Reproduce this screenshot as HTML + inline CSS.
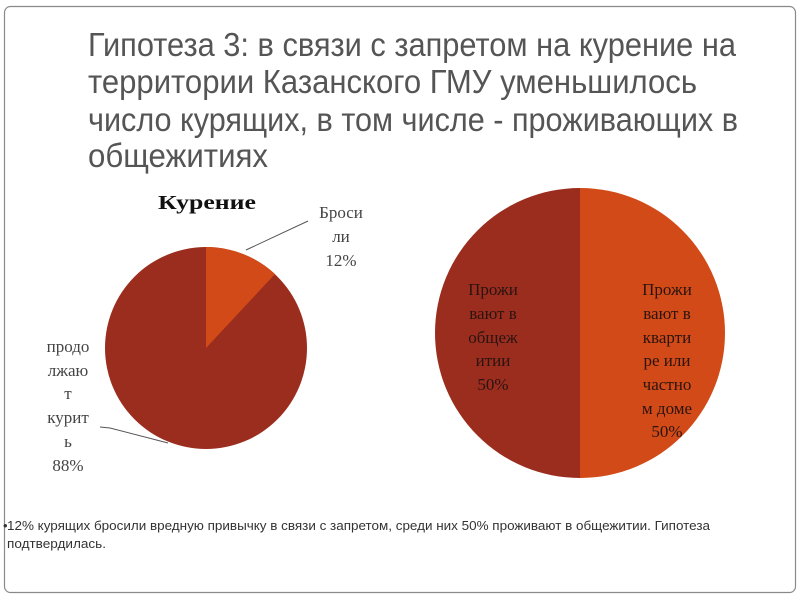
<!DOCTYPE html>
<html><head><meta charset="utf-8"><style>
html,body{margin:0;padding:0;background:#fff;}
svg{display:block;}
</style></head><body>
<svg width="800" height="600" xmlns="http://www.w3.org/2000/svg">
<rect x="4.5" y="6.5" width="791" height="586" rx="6" fill="#fff" stroke="#8a8a8a" stroke-width="1.2"/>
<g font-family="Liberation Sans, DejaVu Sans, sans-serif" font-size="33" fill="#555">
<text x="88" y="56" textLength="648" lengthAdjust="spacingAndGlyphs">Гипотеза 3: в связи с запретом на курение на</text>
<text x="88" y="93" textLength="609" lengthAdjust="spacingAndGlyphs">территории Казанского ГМУ уменьшилось</text>
<text x="88" y="131" textLength="650" lengthAdjust="spacingAndGlyphs">число курящих, в том числе - проживающих в</text>
<text x="88" y="167" textLength="180" lengthAdjust="spacingAndGlyphs">общежитиях</text>
</g>
<text x="158" y="209" font-family="Liberation Serif, serif" font-weight="bold" font-size="20" fill="#111" textLength="98" lengthAdjust="spacingAndGlyphs">Курение</text>
<circle cx="206" cy="348" r="101" fill="#9b2d1f"/>
<path d="M206,348 L206,247 A101,101 0 0 1 275,274 Z" fill="#d24a17"/>
<line x1="246" y1="250" x2="308" y2="221" stroke="#555" stroke-width="1"/>
<polyline points="100,427 110,428 168,443" fill="none" stroke="#555" stroke-width="1"/>
<g font-family="Liberation Serif, serif" font-size="17" fill="#444" text-anchor="middle">
<text x="341" y="218">Броси</text>
<text x="341" y="242">ли</text>
<text x="341" y="266">12%</text>
<text x="68" y="352">продо</text>
<text x="68" y="376">лжаю</text>
<text x="68" y="399">т</text>
<text x="68" y="423">курит</text>
<text x="68" y="447">ь</text>
<text x="68" y="471">88%</text>
</g>
<path d="M580,333 L580,188 A145,145 0 0 0 580,478 Z" fill="#9b2d1f"/>
<path d="M580,333 L580,188 A145,145 0 0 1 580,478 Z" fill="#d24a17"/>
<g font-family="Liberation Serif, serif" font-size="17" fill="#2a1410" text-anchor="middle">
<text x="493" y="295">Прожи</text>
<text x="493" y="319">вают в</text>
<text x="493" y="343">общеж</text>
<text x="493" y="366">итии</text>
<text x="493" y="390">50%</text>
<text x="667" y="295">Прожи</text>
<text x="667" y="319">вают в</text>
<text x="667" y="343">кварти</text>
<text x="667" y="366">ре или</text>
<text x="667" y="390">частно</text>
<text x="667" y="414">м доме</text>
<text x="667" y="437">50%</text>
</g>
<g font-family="Liberation Sans, DejaVu Sans, sans-serif" font-size="13" fill="#333">
<text x="3" y="530">•</text>
<text x="7" y="530" textLength="703" lengthAdjust="spacingAndGlyphs">12% курящих бросили вредную привычку в связи с запретом, среди них 50% проживают в общежитии. Гипотеза</text>
<text x="7" y="548" textLength="99" lengthAdjust="spacingAndGlyphs">подтвердилась.</text>
</g>
</svg>
</body></html>
